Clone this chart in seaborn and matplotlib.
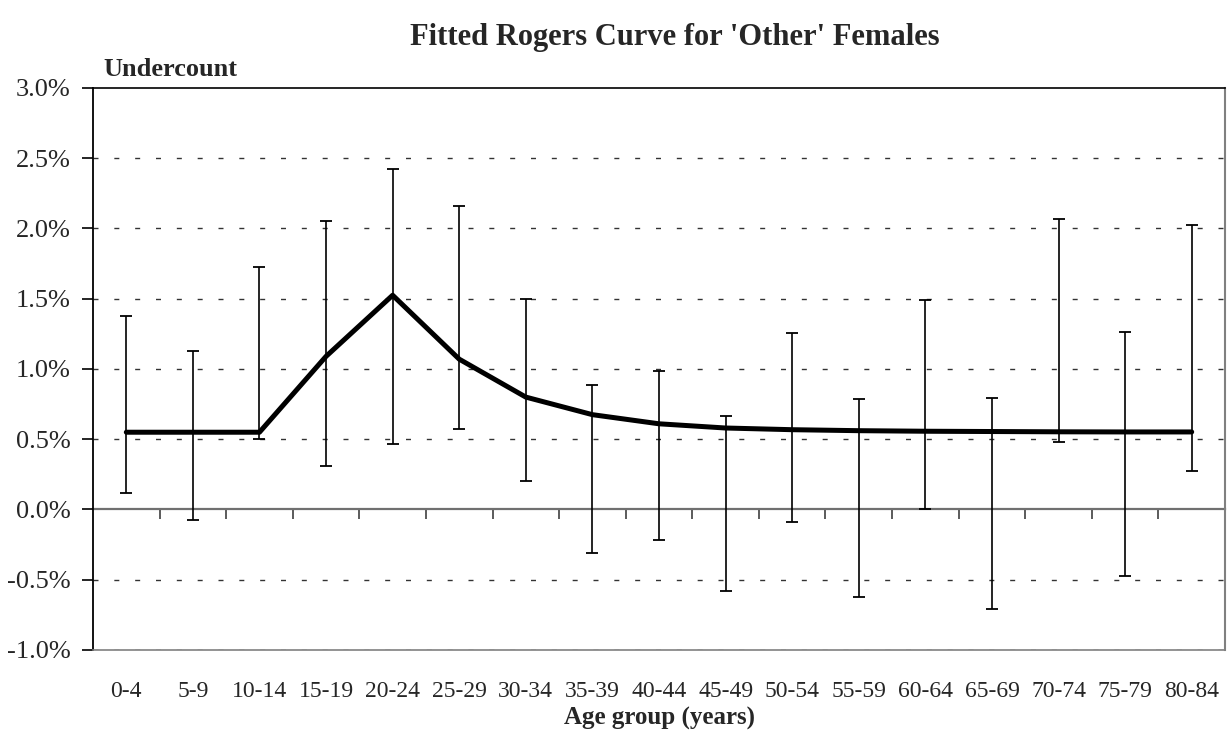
import matplotlib
matplotlib.use("Agg")
import matplotlib.pyplot as plt
import seaborn as sns
import pandas as pd
from matplotlib.ticker import FuncFormatter, FixedLocator

age_groups = ["0-4", "5-9", "10-14", "15-19", "20-24", "25-29", "30-34", "35-39",
              "40-44", "45-49", "50-54", "55-59", "60-64", "65-69", "70-74", "75-79", "80-84"]
fitted = [0.55, 0.55, 0.55, 1.09, 1.525, 1.07, 0.80, 0.675, 0.61, 0.58, 0.568,
          0.561, 0.557, 0.555, 0.553, 0.552, 0.552]
upper = [1.377, 1.126, 1.727, 2.055, 2.42, 2.16, 1.50, 0.884, 0.983, 0.664, 1.254,
         0.789, 1.493, 0.791, 2.069, 1.265, 2.026]
lower = [0.114, -0.073, 0.50, 0.31, 0.464, 0.573, 0.20, -0.313, -0.218, -0.581, -0.09,
         -0.623, 0.007, -0.711, 0.483, -0.474, 0.275]
y_ticks = [-1.0, -0.5, 0.0, 0.5, 1.0, 1.5, 2.0, 2.5, 3.0]

df = pd.DataFrame({"age": age_groups, "fitted": fitted, "upper": upper, "lower": lower})
df["pos"] = range(len(df))
df["mid"] = (df["upper"] + df["lower"]) / 2
df["half"] = (df["upper"] - df["lower"]) / 2

sns.set_style("white")
plt.rcParams["font.family"] = ["Liberation Serif", "DejaVu Serif"]

fig = plt.figure(figsize=(12.32, 7.42), dpi=100)
W, H = 1232, 742
ax = fig.add_axes([93 / W, 1 - 650 / H, (1225 - 93) / W, (650 - 88) / H])

# gridlines
for v in y_ticks:
    if v not in (0.0, 3.0):
        ax.axhline(v, color="#333333", lw=1.0, ls=(0, (3.6, 11.4)), zorder=1)

# error bars
ax.errorbar(df["pos"], df["mid"], yerr=df["half"], fmt="none", ecolor="black",
            elinewidth=1.2, capsize=4, capthick=1.3, zorder=3)

# fitted curve
sns.lineplot(data=df, x="pos", y="fitted", color="black", lw=3.6, ax=ax, zorder=4)

ax.set_xlim(-0.5, len(age_groups) - 0.5)
ax.set_ylim(-1.0, 3.0)
ax.yaxis.set_major_locator(FixedLocator(y_ticks))
ax.yaxis.set_major_formatter(FuncFormatter(lambda v, p: f"{v:.1f}%"))
ax.set_xticks(df["pos"])
ax.set_xticklabels(age_groups)
ax.tick_params(axis="x", length=0, labelsize=17, pad=22)
ax.tick_params(axis="y", direction="out", length=8, width=1.2, color="black",
               labelsize=19, pad=8, left=True)
ax.set_xlabel("Age group (years)", fontsize=18, fontweight="bold", labelpad=4)
ax.set_ylabel("")

ax.spines["top"].set_color("black")
ax.spines["top"].set_linewidth(1.2)
ax.spines["left"].set_color("black")
ax.spines["left"].set_linewidth(1.3)
ax.spines["right"].set_color("#808080")
ax.spines["right"].set_linewidth(1.5)
ax.spines["bottom"].set_color("#808080")
ax.spines["bottom"].set_linewidth(1.2)

# x axis at zero with category separator ticks
sec = ax.secondary_xaxis(0, transform=ax.transData)
sec.set_xticks([i + 0.5 for i in range(len(age_groups))])
sec.set_xticklabels([])
sec.tick_params(axis="x", direction="out", length=7, width=1.2, color="#404040")
sec.spines["bottom"].set_color("#707070")
sec.spines["bottom"].set_linewidth(1.6)

fig.text(675 / W, 1 - 38 / H, "Fitted Rogers Curve for 'Other' Females",
         ha="center", va="center", fontsize=22, fontweight="bold")
fig.text(103 / W, 1 - 70 / H, "Undercount", ha="left", va="center",
         fontsize=19, fontweight="bold")

fig.savefig("out.png", dpi=100, facecolor="white")
